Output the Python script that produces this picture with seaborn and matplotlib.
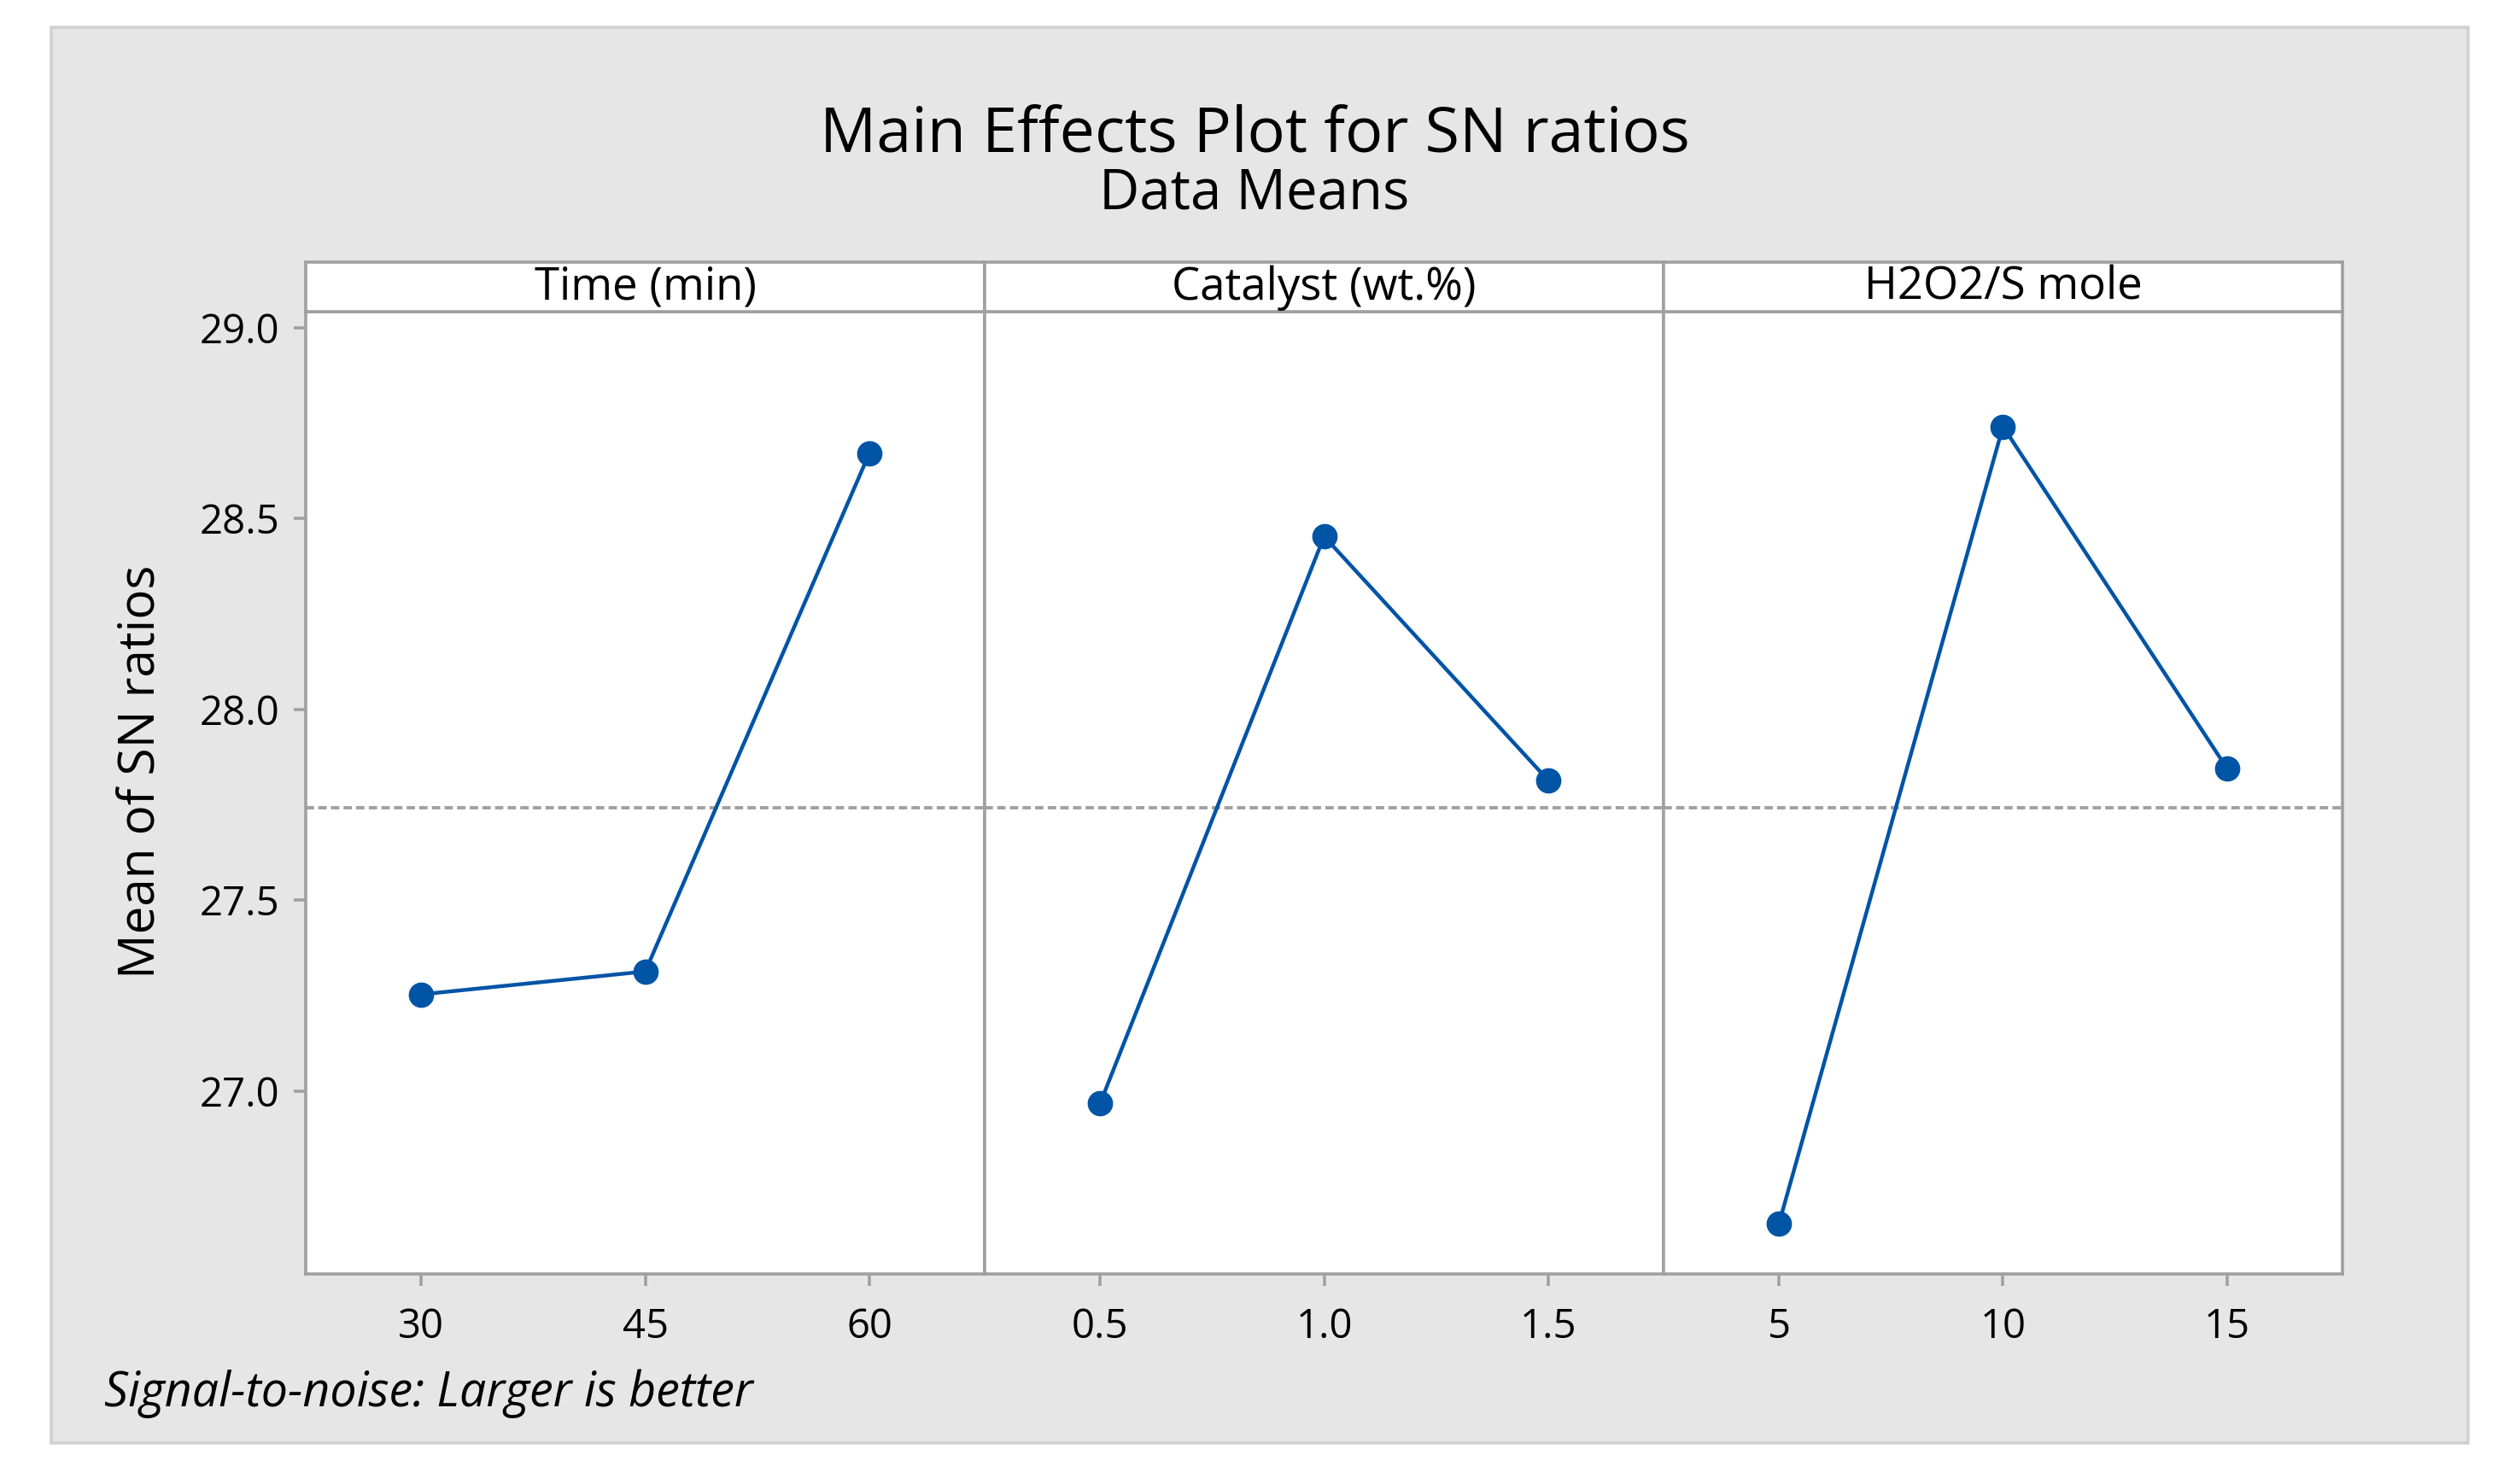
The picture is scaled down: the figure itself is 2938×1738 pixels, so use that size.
import matplotlib
matplotlib.use("Agg")
import seaborn as sns
from matplotlib import pyplot as plt
from matplotlib.patches import Rectangle

# Data (mean SN ratio per factor level)
time_levels = ["30", "45", "60"]
time_sn = [27.253, 27.313, 28.671]

catalyst_levels = ["0.5", "1.0", "1.5"]
catalyst_sn = [26.967, 28.453, 27.814]

h2o2_levels = ["5", "10", "15"]
h2o2_sn = [26.652, 28.741, 27.845]

factor_names = ["Time (min)", "Catalyst (wt.%)", "H2O2/S mole"]
overall_mean = 27.741
y_ticks = [27.0, 27.5, 28.0, 28.5, 29.0]

BLUE = "#0054a6"
GRAY = "#a0a0a0"

sns.set_theme(style="white")
plt.rcParams["font.family"] = ["Open Sans", "DejaVu Sans"]
plt.rcParams["text.color"] = "black"
plt.rcParams["xtick.color"] = "black"
plt.rcParams["ytick.color"] = "black"

fig = plt.figure(figsize=(14.69, 8.69), dpi=200)
fig.patch.set_facecolor("white")

# gray outer frame like Minitab
fig.patches.append(Rectangle((60 / 2938, 1 - 1690 / 1738), 2830 / 2938, 1658 / 1738,
                             transform=fig.transFigure, facecolor="#e6e6e6",
                             edgecolor="#d0d0d0", linewidth=1.3, zorder=-10))

left, right = 0.1219, 0.9336
bottom, top = 0.1417, 0.790
strip_top = 0.8235
w = (right - left) / 3

panels = [(time_levels, time_sn), (catalyst_levels, catalyst_sn), (h2o2_levels, h2o2_sn)]
for i, (levels, values) in enumerate(panels):
    ax = fig.add_axes([left + i * w, bottom, w, top - bottom])
    ax.set_facecolor("white")
    ax.axhline(overall_mean, color=GRAY, lw=1.4, ls=(0, (2.5, 1.3)), zorder=1)
    sns.pointplot(x=levels, y=values, order=levels, ax=ax, color=BLUE,
                  errorbar=None, markers="o", markersize=9.5, linewidth=1.6)
    ax.set_xlim(-0.515, 2.515)
    ax.set_ylim(26.521, 29.042)
    ax.set_yticks(y_ticks)
    ax.set_xlabel("")
    ax.set_ylabel("")
    for sp in ax.spines.values():
        sp.set_color(GRAY)
        sp.set_linewidth(1.3)
    ax.tick_params(axis="x", direction="out", length=5, width=1.3, color=GRAY,
                   labelcolor="black", labelsize=17, pad=9, bottom=True)
    if i == 0:
        ax.set_yticklabels([f"{t:.1f}" for t in y_ticks])
        ax.tick_params(axis="y", direction="out", length=5, width=1.3, color=GRAY,
                       labelcolor="black", labelsize=17, pad=6, left=True)
    else:
        ax.tick_params(axis="y", left=False, labelleft=False)

    # facet strip
    sax = fig.add_axes([left + i * w, top, w, strip_top - top])
    sax.set_facecolor("white")
    sax.set_xticks([])
    sax.set_yticks([])
    for sp in sax.spines.values():
        sp.set_color(GRAY)
        sp.set_linewidth(1.3)
    sax.text(0.5, 0.48, factor_names[i], ha="center", va="center",
             fontsize=19, transform=sax.transAxes)

fig.text(166 / 2938, 1 - 904 / 1738, "Mean of SN ratios", rotation=90,
         ha="center", va="center", fontsize=21)
fig.text(0.5, 0.909, "Main Effects Plot for SN ratios", ha="center", va="center",
         fontsize=26.5)
fig.text(0.5, 0.869, "Data Means", ha="center", va="center", fontsize=23.5)
fig.text(122 / 2938, 1 - 1632 / 1738, "Signal-to-noise: Larger is better",
         ha="left", va="center", fontsize=20, style="italic")

fig.savefig("out.png", dpi=200)
